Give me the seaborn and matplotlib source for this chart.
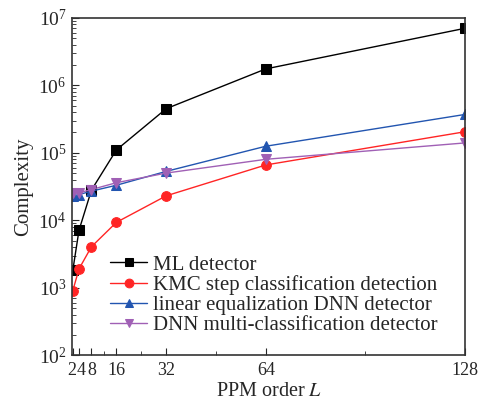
import matplotlib
matplotlib.use("Agg")
import matplotlib.pyplot as plt
import matplotlib.transforms as mtransforms
import seaborn as sns
import pandas as pd
from matplotlib.ticker import FixedLocator, LogLocator, NullFormatter

# PPM order and complexity values
ppm_order = [2, 4, 8, 16, 32, 64, 128]
ml_detector = [1800, 7100, 28000, 110000, 450000, 1750000, 7000000]
kmc_step = [900, 1900, 4050, 9300, 23000, 66000, 205000]
linear_dnn = [23000, 24000, 27000, 33000, 53000, 125000, 370000]
dnn_multi = [25000, 25500, 28500, 36000, 50000, 80000, 140000]

series_names = [
    "ML detector",
    "KMC step classification detection",
    "linear equalization DNN detector",
    "DNN multi-classification detector",
]
series_values = [ml_detector, kmc_step, linear_dnn, dnn_multi]

df = pd.concat(
    [pd.DataFrame({"L": ppm_order, "Complexity": v, "method": n})
     for n, v in zip(series_names, series_values)],
    ignore_index=True,
)

sns.set_style("ticks")
plt.rcParams["font.family"] = ["Liberation Serif", "DejaVu Serif"]
plt.rcParams["mathtext.fontset"] = "stix"

colors = ["#000000", "#FF2525", "#2255B0", "#A060B5"]
markers = ["s", "o", "^", "v"]

fig = plt.figure(figsize=(4.81, 4.05), dpi=100)
ax = fig.add_axes([0.15, 0.123, 0.817, 0.833])

for name, c, m in zip(series_names, colors, markers):
    sns.lineplot(
        data=df[df["method"] == name], x="L", y="Complexity", ax=ax,
        color=c, marker=m, markersize=7, markeredgecolor=c, linewidth=1.0,
        label=name,
    )

ax.set_yscale("log")
ax.set_ylim(1e2, 1e7)
ax.set_xlim(1.8, 128)
ax.xaxis.set_major_locator(FixedLocator(ppm_order))
ax.set_xticklabels([str(v) for v in ppm_order])
ax.xaxis.set_minor_locator(FixedLocator([12, 24, 48, 96]))
ax.yaxis.set_major_locator(LogLocator(base=10, numticks=10))
ax.yaxis.set_minor_locator(LogLocator(base=10, subs=range(2, 10), numticks=20))
ax.yaxis.set_minor_formatter(NullFormatter())

ax.tick_params(which="both", direction="in", top=False, right=False)
ax.tick_params(axis="x", labelsize=13, pad=5)
ax.tick_params(axis="y", labelsize=14, pad=4)
ax.tick_params(which="major", length=5)
ax.tick_params(which="minor", length=3)

# the first three labels sit close together; nudge them apart slightly
shifts = {0: -1.0, 1: 2.5, 2: 0.5}
for i, lab in enumerate(ax.get_xticklabels()):
    if i in shifts:
        lab.set_transform(lab.get_transform() + mtransforms.ScaledTranslation(
            shifts[i] / 100, 0, fig.dpi_scale_trans))

for s in ax.spines.values():
    s.set_color("#333333")
    s.set_linewidth(1.2)

ax.set_xlabel("PPM order $L$", fontsize=14.5, labelpad=2)
ax.set_ylabel("Complexity", fontsize=15, labelpad=4)

ax.legend(loc="lower left", bbox_to_anchor=(0.075, 0.035), frameon=False,
          fontsize=15, handlelength=1.8, handletextpad=0.25, labelspacing=0.02,
          borderaxespad=0.0, markerscale=0.9)

fig.savefig("out.png", dpi=100)
